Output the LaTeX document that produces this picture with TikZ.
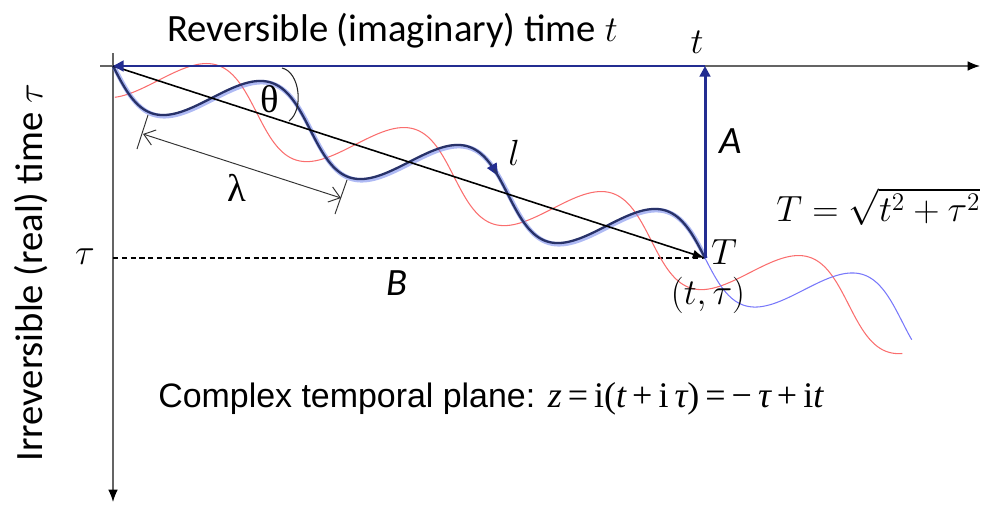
\documentclass[tikz,border=0pt]{standalone}
\usepackage{fontspec}
\usetikzlibrary{arrows.meta}
\newfontfamily\calib{Carlito}
\newfontfamily\arialf{Liberation Sans}
\newfontfamily\tnr{Liberation Serif}
\definecolor{navy}{RGB}{35,45,145}
\definecolor{wavedark}{RGB}{40,50,105}
\definecolor{waveglow}{RGB}{110,130,235}
\definecolor{redw}{RGB}{250,110,110}
\definecolor{bluet}{RGB}{120,120,250}
\definecolor{axisg}{RGB}{100,100,100}
\begin{document}
\begin{tikzpicture}[x=0.02cm,y=-0.02cm,
  axisline/.style={draw=axisg,line width=0.75pt,-{Latex[length=7pt,width=5.5pt,color=black]}},
  bluearrow/.style={draw=navy,line width=1.7pt,-{Triangle[length=6pt,width=6pt]}},
  diagarrow/.style={draw=black,line width=0.9pt,-{Latex[length=7pt,width=5pt]}},
  dimline/.style={draw=black!80,line width=0.55pt},
  lbl/.style={inner sep=0pt},
  calibtxt/.style={lbl,font=\calib\fontsize{22}{24}\selectfont},
  calibit/.style={lbl,font=\calib\itshape\fontsize{22}{24}\selectfont},
  mathlbl/.style={lbl,font=\fontsize{20}{24}\selectfont},
  serlbl/.style={lbl,font=\tnr\fontsize{22}{24}\selectfont},
  glow/.style={draw=waveglow,line width=2.6pt,opacity=0.55},
  wave/.style={draw=wavedark,line width=1.3pt},
  redwave/.style={draw=redw,line width=0.6pt},
  tailwave/.style={draw=bluet,line width=0.6pt}
]
\useasboundingbox (0,0) rectangle (993,511);
% key points
\coordinate (O) at (113,66);
\coordinate (T) at (705,258);
\coordinate (Ttop) at (705,66);
\coordinate (hxs) at (100,66);
\coordinate (hxe) at (980,66);
\coordinate (vxs) at (113,53);
\coordinate (vxe) at (113,502);
\coordinate (tauP) at (113,258);
% axes
\draw[axisline] (hxs) -- (hxe);
\draw[axisline] (vxs) -- (vxe);
% dashed
\draw[black,line width=0.6pt,dash pattern=on 3pt off 2pt] (tauP) -- (T);
% red wave
\draw[redwave] plot[domain=0.055:4.05,samples=260,variable=\s,smooth]
  ({113+197.33*\s-10.18*cos(360*\s+8)},{66+64.0*\s+31.39*cos(360*\s+8)});
% blue tail
\draw[tailwave] plot[domain=3:4.07,samples=80,variable=\s,smooth]
  ({113+197.33*\s-10.18*sin(360*\s)},{66+64.0*\s+31.39*sin(360*\s)});
% blue wave glow
\draw[glow] plot[domain=0:3,samples=220,variable=\s,smooth]
  ({113+197.33*\s-10.18*sin(360*\s)+1.2},{66+64.0*\s+31.39*sin(360*\s)+1.2});
% blue wave with arrow
\draw[wave,-{Triangle[length=7pt,width=6pt,color=navy]}] plot[domain=0:1.93,samples=160,variable=\s,smooth]
  ({113+197.33*\s-10.18*sin(360*\s)},{66+64.0*\s+31.39*sin(360*\s)});
\draw[wave] plot[domain=1.90:3,samples=100,variable=\s,smooth]
  ({113+197.33*\s-10.18*sin(360*\s)},{66+64.0*\s+31.39*sin(360*\s)});
% diagonal
\draw[diagarrow] (O) -- (T);
% blue arrows
\draw[bluearrow] (T) -- (Ttop);
\draw[bluearrow] (Ttop) -- (O);
% theta arc
\coordinate (th1) at (282,68);
\coordinate (th2) at (289,121);
\draw[black!85,line width=0.6pt] (th1) .. controls (300,72) and (304,110) .. (th2);
% lambda dimension
\coordinate (e1a) at (148,115);
\coordinate (e1b) at (137,149);
\coordinate (e2a) at (347,180);
\coordinate (e2b) at (335,214);
\coordinate (d1) at (143,134);
\coordinate (d2) at (341,198);
\draw[dimline] (e1a) -- (e1b);
\draw[dimline] (e2a) -- (e2b);
\draw[dimline,{Straight Barb[length=6pt,width=9pt]}-{Straight Barb[length=6pt,width=9pt]}] (d1) -- (d2);
% labels
\node[calibtxt,anchor=base west] (title) at (167,41) {Reversible (imaginary) time $t$};
\node[calibtxt,rotate=90] (ylab) at (31,273) {Irreversible (real) time $\tau$};
\node[mathlbl] (tlab) at (697,42) {$t$};
\node[mathlbl] (taulab) at (85,257) {$\tau$};
\node[calibit] (Alab) at (731,141) {A};
\node[calibit] (Blab) at (397,283) {B};
\node[mathlbl] (Tlab) at (724,252) {$T$};
\node[mathlbl] (ttau) at (708,295) {$(t,\tau)$};
\node[mathlbl,font=\fontsize{21.5}{24}\selectfont,anchor=base west] (formula) at (776,221) {$T=\sqrt{t^2+\tau^2}$};
\node[mathlbl] (llab) at (514,153) {$l$};
\node[serlbl] (thlab) at (270,99) {θ};
\node[serlbl] (lamlab) at (237,188) {λ};
\node[lbl,anchor=base west,font=\arialf\fontsize{19.3}{22}\selectfont] (cplx) at (158,407)
  {Complex temporal plane: {\tnr\fontsize{20.5}{22}\selectfont\itshape z\upshape\,=\,i(\itshape t\upshape\,+\,i\,\itshape τ\upshape)\,=\,−\,\itshape τ\upshape\,+\,i\itshape t}};
\end{tikzpicture}
\end{document}
